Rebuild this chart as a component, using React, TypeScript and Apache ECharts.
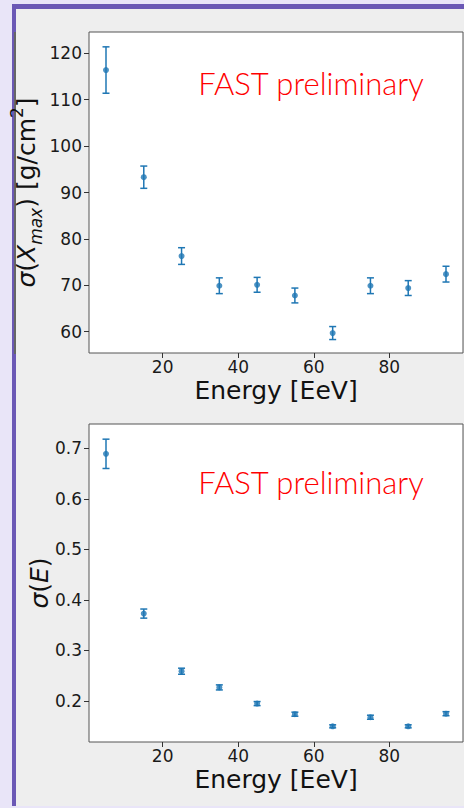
import React, { useEffect, useRef } from "react";
import * as echarts from "echarts";

const energies = [5, 15, 25, 35, 45, 55, 65, 75, 85, 95];
const sigmaXmax = [116.4, 93.3, 76.3, 69.9, 70.1, 67.8, 59.7, 69.9, 69.4, 72.4];
const sigmaXmaxErr = [5.0, 2.4, 1.8, 1.7, 1.6, 1.6, 1.4, 1.7, 1.6, 1.7];
const sigmaE = [0.689, 0.373, 0.259, 0.227, 0.195, 0.174, 0.15, 0.168, 0.15, 0.175];
const sigmaEErr = [0.029, 0.009, 0.006, 0.005, 0.004, 0.004, 0.003, 0.004, 0.003, 0.004];
const energyTicks = [20, 40, 60, 80];
const xmaxTicks = [60, 70, 80, 90, 100, 110, 120];
const eTicks = [0.2, 0.3, 0.4, 0.5, 0.6, 0.7];
const watermark = "FAST preliminary";
const xLabel = "Energy [EeV]";

const BLUE = "#1f77b4";
const FONT = "DejaVu Sans";

function errorSeries(vals: number[], errs: number[], idx: number) {
  return {
    type: "custom",
    xAxisIndex: idx,
    yAxisIndex: idx,
    data: energies.map((e, i) => [e, vals[i], errs[i]]),
    encode: { x: 0, y: 1 },
    z: 2,
    renderItem: (_params: any, api: any) => {
      const x = api.value(0);
      const y = api.value(1);
      const e = api.value(2);
      const top = api.coord([x, y + e]);
      const bot = api.coord([x, y - e]);
      const hw = 3.5;
      const style = { stroke: BLUE, lineWidth: 1.5, fill: "none" };
      return {
        type: "group",
        children: [
          { type: "line", shape: { x1: top[0], y1: top[1], x2: bot[0], y2: bot[1] }, style },
          { type: "line", shape: { x1: top[0] - hw, y1: top[1], x2: top[0] + hw, y2: top[1] }, style },
          { type: "line", shape: { x1: bot[0] - hw, y1: bot[1], x2: bot[0] + hw, y2: bot[1] }, style },
        ],
      };
    },
  };
}

function pointSeries(vals: number[], idx: number) {
  return {
    type: "scatter",
    xAxisIndex: idx,
    yAxisIndex: idx,
    data: energies.map((e, i) => [e, vals[i]]),
    symbol: "circle",
    symbolSize: 6,
    itemStyle: { color: BLUE },
    z: 3,
  };
}

const tickStyle = { show: true, inside: false, length: 5, lineStyle: { color: "#333", width: 1 } };
const labelStyle = { fontFamily: FONT, fontSize: 17, color: "#1a1a1a" };

function xAxis(idx: number) {
  return {
    type: "value",
    gridIndex: idx,
    min: 0.5,
    max: 99.5,
    axisLine: { show: false },
    splitLine: { show: false },
    axisTick: { ...tickStyle, customValues: energyTicks },
    axisLabel: { ...labelStyle, margin: 6, lineHeight: 16, customValues: energyTicks },
    name: xLabel,
    nameLocation: "middle",
    nameGap: 25,
    nameMoveOverlap: false,
    nameTextStyle: { fontFamily: FONT, fontSize: 25, color: "#111", lineHeight: 25 },
  };
}

export default function App() {
  const ref = useRef<HTMLDivElement>(null);
  useEffect(() => {
    if (!ref.current) return;
    const chart = echarts.init(ref.current, undefined, { renderer: "svg" });
    chart.setOption({
      animation: false,
      grid: [
        { left: 89, top: 32, right: 1, height: 321, show: true, backgroundColor: "#ffffff", borderColor: "#555", borderWidth: 1, outerBoundsMode: "none", containLabel: false },
        { left: 89, top: 424, right: 1, height: 318, show: true, backgroundColor: "#ffffff", borderColor: "#555", borderWidth: 1, outerBoundsMode: "none", containLabel: false },
      ],
      xAxis: [xAxis(0), xAxis(1)],
      yAxis: [
        {
          type: "value",
          gridIndex: 0,
          min: 55.4,
          max: 124.6,
          axisLine: { show: false },
          splitLine: { show: false },
          axisTick: { ...tickStyle, customValues: xmaxTicks },
          axisLabel: { ...labelStyle, margin: 7, customValues: xmaxTicks },
          name: "{i|σ}{a|(}{i|X}{s|max}{a|) [g/cm}{p|2}{a|]}",
          nameLocation: "middle",
          nameGap: 45,
          nameMoveOverlap: false,
          nameTextStyle: {
            color: "#111",
            rich: {
              a: { fontFamily: FONT, fontSize: 25, lineHeight: 36, color: "#111" },
              i: { fontFamily: FONT, fontStyle: "italic", fontSize: 25, lineHeight: 36, color: "#111" },
              s: { fontFamily: FONT, fontStyle: "italic", fontSize: 17, lineHeight: 17, verticalAlign: "bottom", color: "#111" },
              p: { fontFamily: FONT, fontSize: 17, lineHeight: 17, verticalAlign: "top", color: "#111" },
            },
          },
        },
        {
          type: "value",
          gridIndex: 1,
          min: 0.119,
          max: 0.748,
          axisLine: { show: false },
          splitLine: { show: false },
          axisTick: { ...tickStyle, customValues: eTicks },
          axisLabel: { ...labelStyle, margin: 7, customValues: eTicks, formatter: (v: number) => v.toFixed(1) },
          name: "{i|σ}{a|(}{i|E}{a|)}",
          nameLocation: "middle",
          nameGap: 37,
          nameMoveOverlap: false,
          nameTextStyle: {
            color: "#111",
            rich: {
              a: { fontFamily: FONT, fontSize: 25, color: "#111" },
              i: { fontFamily: FONT, fontStyle: "italic", fontSize: 25, color: "#111" },
            },
          },
        },
      ],
      graphic: [
        { type: "text", x: 311, y: 83, style: { text: watermark, fill: "#ff0000", fontFamily: "Lato", fontWeight: 300, fontSize: 31, align: "center", verticalAlign: "middle" } },
        { type: "text", x: 311, y: 482, style: { text: watermark, fill: "#ff0000", fontFamily: "Lato", fontWeight: 300, fontSize: 31, align: "center", verticalAlign: "middle" } },
      ],
      series: [
        errorSeries(sigmaXmax, sigmaXmaxErr, 0),
        pointSeries(sigmaXmax, 0),
        errorSeries(sigmaE, sigmaEErr, 1),
        pointSeries(sigmaE, 1),
      ],
    });
    return () => chart.dispose();
  }, []);

  return (
    <div style={{ position: "fixed", left: 0, top: 0, width: 464, height: 808, background: "#e9e5f8", overflow: "hidden" }}>
      <div style={{ position: "absolute", left: 12, top: 4, width: 452, height: 802, background: "#6b58b5" }} />
      <div style={{ position: "absolute", left: 16, top: 9, width: 448, height: 797, background: "#eeeeee" }} />
      <div style={{ position: "absolute", left: 14, top: 32, width: 1.5, height: 322, background: "#666" }} />
      <div ref={ref} style={{ position: "absolute", left: 0, top: 0, width: 464, height: 808 }} />
    </div>
  );
}
